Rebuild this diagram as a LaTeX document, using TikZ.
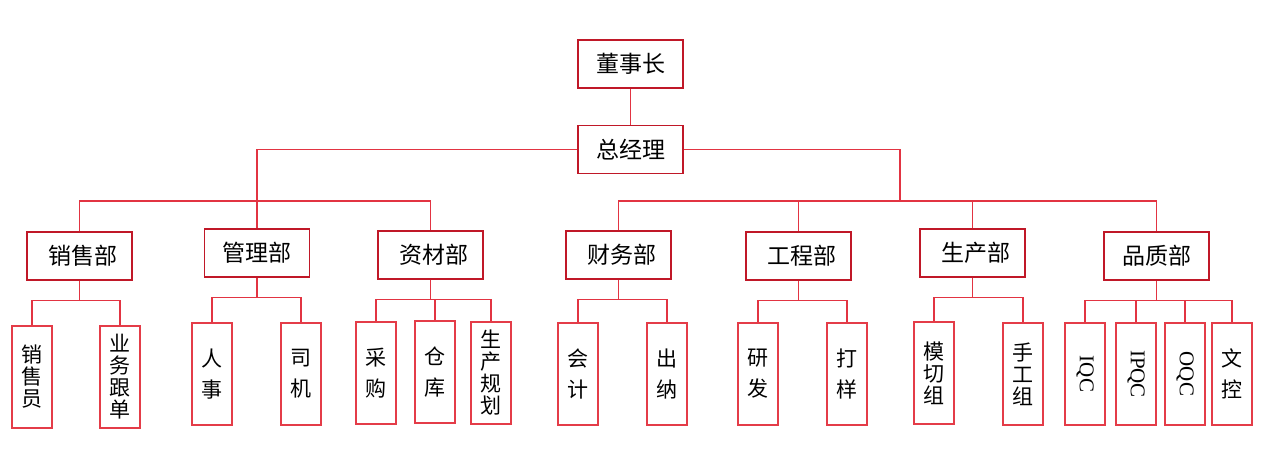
\documentclass[tikz,border=0pt]{standalone}
\usepackage{fontspec}
\setmainfont{Liberation Serif}
\newfontfamily\cjk{Noto Sans CJK SC}
\usepackage{xcolor}
\usetikzlibrary{positioning}
\definecolor{boxred}{RGB}{192,24,40}
\definecolor{leafred}{RGB}{228,60,72}
\definecolor{linered}{RGB}{226,52,66}

\begin{document}
\begin{tikzpicture}[x=1pt,y=-1pt,
  head/.style={rectangle, draw=boxred, line width=1.4pt, minimum width=105pt, minimum height=48pt, inner sep=0pt, font=\cjk\fontsize{23}{27}\selectfont},
  leaf/.style={rectangle, draw=leafred, line width=1.4pt, minimum width=40pt, minimum height=102pt, inner sep=0pt, align=center, font=\cjk\fontsize{21}{22}\selectfont},
  conn/.style={draw=linered, line width=1.1pt}]
\useasboundingbox (0,0) rectangle (1268,470);
% top
\node[head] (dsz) at (630.5,64) {董事长};
\node[head] (zjl) at (630.5,149.5) {总经理};
% departments
\node[head] (xsb) at (79.5,256) {\hspace{6pt}销售部};
\node[head] (glb) at (257,253) {管理部};
\node[head] (zcb) at (430.5,255) {\hspace{6pt}资材部};
\node[head] (cwb) at (618.5,255) {\hspace{6pt}财务部};
\node[head] (gcb) at (798.5,256) {\hspace{6pt}工程部};
\node[head] (scb) at (972.5,253) {\hspace{6pt}生产部};
\node[head] (pzb) at (1156.5,256) {品质部};
% posts
\node[leaf] (xsy) at (32,377) {销\\售\\员};
\node[leaf] (gdan) at (120,377) {业\\务\\跟\\单};
\node[leaf] (rs) at (212,374) {人\\[9pt]事};
\node[leaf] (sj) at (301,374) {司\\[9pt]机};
\node[leaf] (cg) at (376,373) {采\\[9pt]购};
\node[leaf] (ck) at (435,372) {仓\\[9pt]库};
\node[leaf] (scgh) at (491,373) {生\\产\\规\\划};
\node[leaf] (kj) at (578,374) {会\\[9pt]计};
\node[leaf] (cn) at (667,374) {出\\[9pt]纳};
\node[leaf] (yf) at (758,374) {研\\[9pt]发};
\node[leaf] (dy) at (847,374) {打\\[9pt]样};
\node[leaf] (mq) at (934,373) {模\\切\\组};
\node[leaf] (sg) at (1023,374) {手\\工\\组};
\node[leaf] (iqc) at (1085,374) {\rmfamily\rotatebox{-90}{IQC}};
\node[leaf] (ipqc) at (1136,374) {\rmfamily\rotatebox{-90}{IPQC}};
\node[leaf] (oqc) at (1185,374) {\rmfamily\rotatebox{-90}{OQC}};
\node[leaf] (wk) at (1232,374) {文\\[9pt]控};
% connectors
\coordinate (busL) at (257,201);
\coordinate (busR) at (900,201);
\draw[conn] (dsz) -- (zjl);
\draw[conn] (zjl.west) -| (glb.north);
\draw[conn] (xsb.north) |- (busL) -| (zcb.north);
\draw[conn] (zjl.east) -| (busR);
\draw[conn] (cwb.north) |- (busR) -| (pzb.north);
\draw[conn] (gcb.north) -- (gcb.north |- busR);
\draw[conn] (scb.north) -- (scb.north |- busR);
\foreach \d/\a/\b in {xsb/xsy/gdan, glb/rs/sj, zcb/cg/scgh, cwb/kj/cn, gcb/yf/dy, scb/mq/sg, pzb/iqc/wk} {
  \draw[conn] (\d.south) -- ++(0,20) coordinate (\d-bus);
  \draw[conn] (\a.north) |- (\d-bus) -| (\b.north);
}
\draw[conn] (ck.north) -- (ck.north |- zcb-bus);
\draw[conn] (ipqc.north) -- (ipqc.north |- pzb-bus);
\draw[conn] (oqc.north) -- (oqc.north |- pzb-bus);
\end{tikzpicture}
\end{document}
